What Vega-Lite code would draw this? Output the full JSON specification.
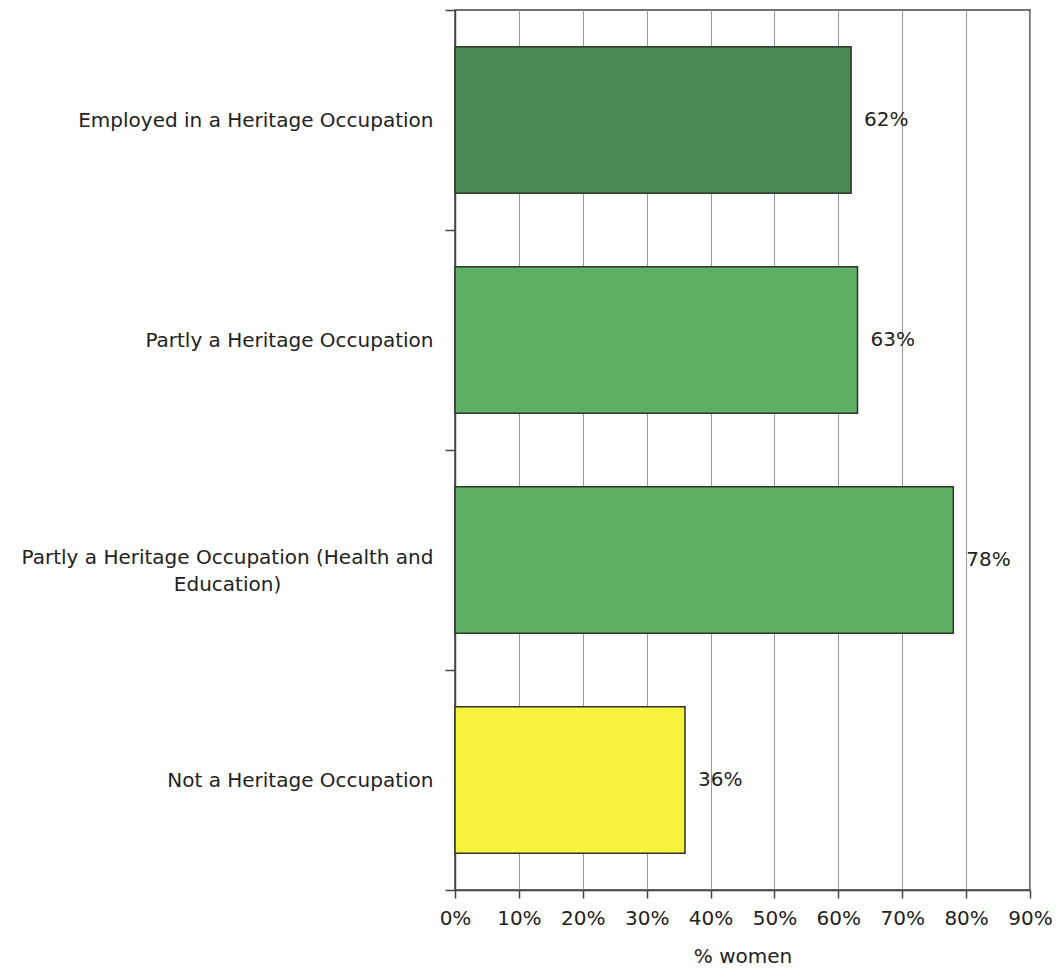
{
  "$schema": "https://vega.github.io/schema/vega-lite/v6.json",
  "width": 575,
  "height": 880,
  "autosize": {"type": "none"},
  "padding": {"left": 455, "top": 10, "right": 27, "bottom": 79},
  "background": "white",
  "config": {
    "view": {"stroke": "#444", "strokeWidth": 1.5},
    "font": "DejaVu Sans"
  },
  "data": {
    "values": [
      {"category": "Employed in a Heritage Occupation", "value": 0.62},
      {"category": "Partly a Heritage Occupation", "value": 0.63},
      {"category": "Partly a Heritage Occupation (Health and Education)", "value": 0.78},
      {"category": "Not a Heritage Occupation", "value": 0.36}
    ]
  },
  "encoding": {
    "y": {
      "field": "category",
      "type": "nominal",
      "sort": null,
      "scale": {"paddingInner": 0, "paddingOuter": 0},
      "axis": {
        "title": null,
        "domainColor": "#444",
        "domainWidth": 1.5,
        "tickColor": "#444",
        "tickWidth": 1.5,
        "tickSize": 10,
        "tickBand": "extent",
        "labelFont": "DejaVu Sans",
        "labelFontSize": 20,
        "labelColor": "#222",
        "labelLimit": 600,
        "labelExpr": "datum.value == 'Partly a Heritage Occupation (Health and Education)' ? ['Partly a Heritage Occupation (Health and', 'Education)'] : datum.value",
        "labelLineHeight": 27,
        "labelAlign": {"condition": {"test": "datum.value == 'Partly a Heritage Occupation (Health and Education)'", "value": "center"}, "value": "right"},
        "labelPadding": {"condition": {"test": "datum.value == 'Partly a Heritage Occupation (Health and Education)'", "value": 218}, "value": 12},
        "labelOffset": {"condition": {"test": "datum.value == 'Partly a Heritage Occupation (Health and Education)'", "value": -3}, "value": 0}
      }
    }
  },
  "layer": [
    {
      "mark": {"type": "bar", "stroke": "#333", "strokeWidth": 1.5, "height": {"band": 0.665}},
      "encoding": {
        "x": {
          "field": "value",
          "type": "quantitative",
          "scale": {"domain": [0, 0.9], "nice": false},
          "axis": {
            "title": "% women",
            "titleFont": "DejaVu Sans",
            "titleFontSize": 20,
            "titleFontWeight": "normal",
            "titleColor": "#222",
            "titlePadding": 18,
            "values": [0, 0.1, 0.2, 0.3, 0.4, 0.5, 0.6, 0.7, 0.8, 0.9],
            "format": ".0%",
            "labelFont": "DejaVu Sans",
            "labelFontSize": 20,
            "labelColor": "#222",
            "labelPadding": 10,
            "labelFlush": false,
            "labelOverlap": false,
            "grid": true,
            "gridColor": "#999",
            "gridWidth": 1,
            "domainColor": "#444",
            "domainWidth": 1.5,
            "tickColor": "#444",
            "tickWidth": 1.5,
            "tickSize": 8
          }
        },
        "color": {
          "field": "category",
          "type": "nominal",
          "legend": null,
          "scale": {
            "domain": [
              "Employed in a Heritage Occupation",
              "Partly a Heritage Occupation",
              "Partly a Heritage Occupation (Health and Education)",
              "Not a Heritage Occupation"
            ],
            "range": ["#4b8a55", "#5eae64", "#5eae64", "#f7f23a"]
          }
        }
      }
    },
    {
      "mark": {"type": "text", "align": "left", "baseline": "middle", "dx": 13, "fontSize": 20, "font": "DejaVu Sans", "color": "#222"},
      "encoding": {
        "x": {"field": "value", "type": "quantitative"},
        "text": {"field": "value", "type": "quantitative", "format": ".0%"}
      }
    }
  ]
}
